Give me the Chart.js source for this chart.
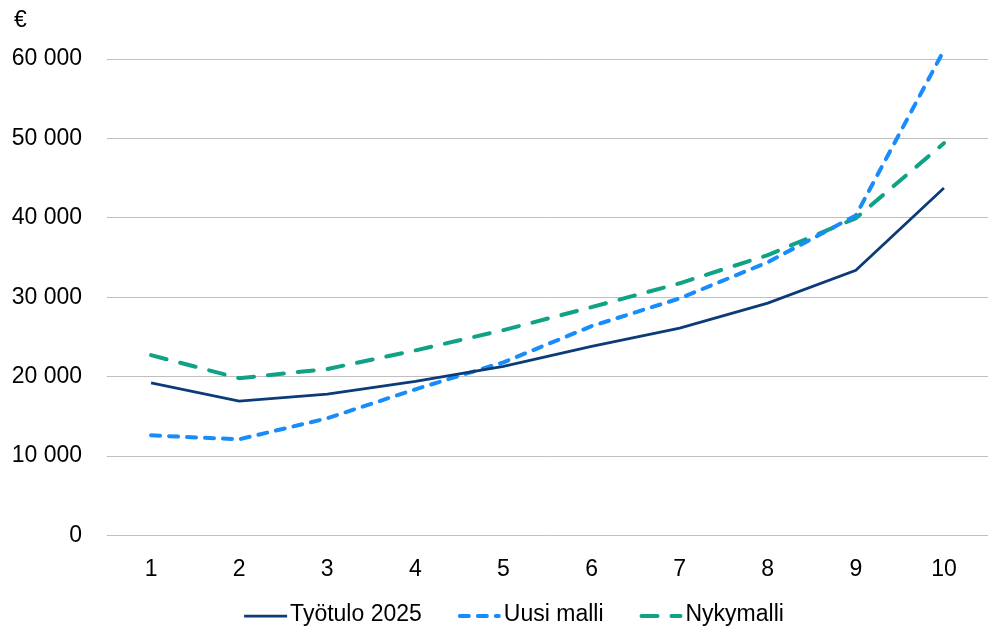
<!DOCTYPE html>
<html>
<head>
<meta charset="utf-8">
<script src="https://cdn.jsdelivr.net/npm/chart.js@4/dist/chart.umd.min.js"></script>
<style>
  html, body { margin: 0; padding: 0; background: #ffffff; }
  #wrap { width: 997px; height: 628px; }
</style>
</head>
<body>
<div id="wrap"><canvas id="c" width="997" height="628"></canvas></div>
<script>
// Income deciles 1–10
const deciles = ['1', '2', '3', '4', '5', '6', '7', '8', '9', '10'];

// Annual amounts in euros per decile
const tyotulo2025 = [19200, 16900, 17800, 19400, 21300, 23800, 26100, 29250, 33400, 43750];
const uusiMalli   = [12600, 12100, 14750, 18400, 21800, 26350, 29850, 34400, 40300, 61100];
const nykymalli   = [22700, 19800, 20950, 23300, 25850, 28750, 31750, 35300, 39950, 49400];

const yTicks = [0, 10000, 20000, 30000, 40000, 50000, 60000];
const unitLabel = '€';

const fmt = v => String(v).replace(/\B(?=(\d{3})+(?!\d))/g, ' ');

const FONT = '"Liberation Sans", Arial, sans-serif';
const tickFont = { family: FONT, size: 23 };

// Unit label in the top-left corner and a legend below the x axis
// whose samples keep each dataset's own dash pattern
const decorations = {
  id: 'decorations',
  afterDraw(chart) {
    const ctx = chart.ctx;
    const sets = chart.data.datasets;
    ctx.save();

    ctx.font = '23px ' + FONT;
    ctx.fillStyle = '#000000';
    ctx.textAlign = 'left';
    ctx.textBaseline = 'middle';
    ctx.fillText(unitLabel, 14, 21);

    const lineW = 43, textGap = 3, itemGap = 36, centerX = 514, y = 615;
    const widths = sets.map(ds => ctx.measureText(ds.label).width);
    const total = widths.reduce((a, w) => a + lineW + textGap + w, 0) + itemGap * (sets.length - 1);
    let x = centerX - total / 2;
    sets.forEach((ds, i) => {
      ctx.beginPath();
      ctx.setLineDash(ds.borderDash || []);
      ctx.lineCap = ds.borderCapStyle || 'butt';
      ctx.lineWidth = ds.borderWidth;
      ctx.strokeStyle = ds.borderColor;
      const inset = ctx.lineCap === 'round' ? ds.borderWidth / 2 : 0;
      ctx.moveTo(x + inset, y + 1);
      ctx.lineTo(x + lineW - inset, y + 1);
      ctx.stroke();
      ctx.setLineDash([]);
      ctx.fillStyle = '#000000';
      ctx.fillText(ds.label, x + lineW + textGap, y);
      x += lineW + textGap + widths[i] + itemGap;
    });
    ctx.restore();
  }
};

new Chart(document.getElementById('c'), {
  type: 'line',
  data: {
    labels: deciles,
    datasets: [
      {
        label: 'Työtulo 2025',
        data: tyotulo2025,
        borderColor: '#0c3c78',
        backgroundColor: '#0c3c78',
        borderWidth: 2.75,
        pointRadius: 0,
        tension: 0,
        clip: false
      },
      {
        label: 'Uusi malli',
        data: uusiMalli,
        borderColor: '#178cfa',
        backgroundColor: '#178cfa',
        borderWidth: 4,
        borderDash: [9, 9],
        borderCapStyle: 'round',
        pointRadius: 0,
        tension: 0,
        clip: false
      },
      {
        label: 'Nykymalli',
        data: nykymalli,
        borderColor: '#0fa284',
        backgroundColor: '#0fa284',
        borderWidth: 4,
        borderDash: [16, 14],
        borderCapStyle: 'round',
        pointRadius: 0,
        tension: 0,
        clip: false
      }
    ]
  },
  options: {
    responsive: false,
    animation: false,
    devicePixelRatio: 1,
    layout: { padding: { left: 0, right: 9, top: 59, bottom: 33 } },
    plugins: {
      legend: { display: false },
      tooltip: { enabled: false }
    },
    scales: {
      x: {
        offset: true,
        grid: { display: false },
        border: { display: false },
        ticks: { color: '#000000', font: tickFont, padding: 12, maxRotation: 0 }
      },
      y: {
        min: 0,
        max: 60000,
        afterBuildTicks: axis => { axis.ticks = yTicks.map(v => ({ value: v })); },
        afterFit: axis => { axis.width = 107; },
        grid: { color: '#bfbfbf', lineWidth: 1, drawTicks: false },
        border: { display: false },
        ticks: { color: '#000000', font: tickFont, padding: 25, callback: v => fmt(v) }
      }
    }
  },
  plugins: [decorations]
});
</script>
</body>
</html>
